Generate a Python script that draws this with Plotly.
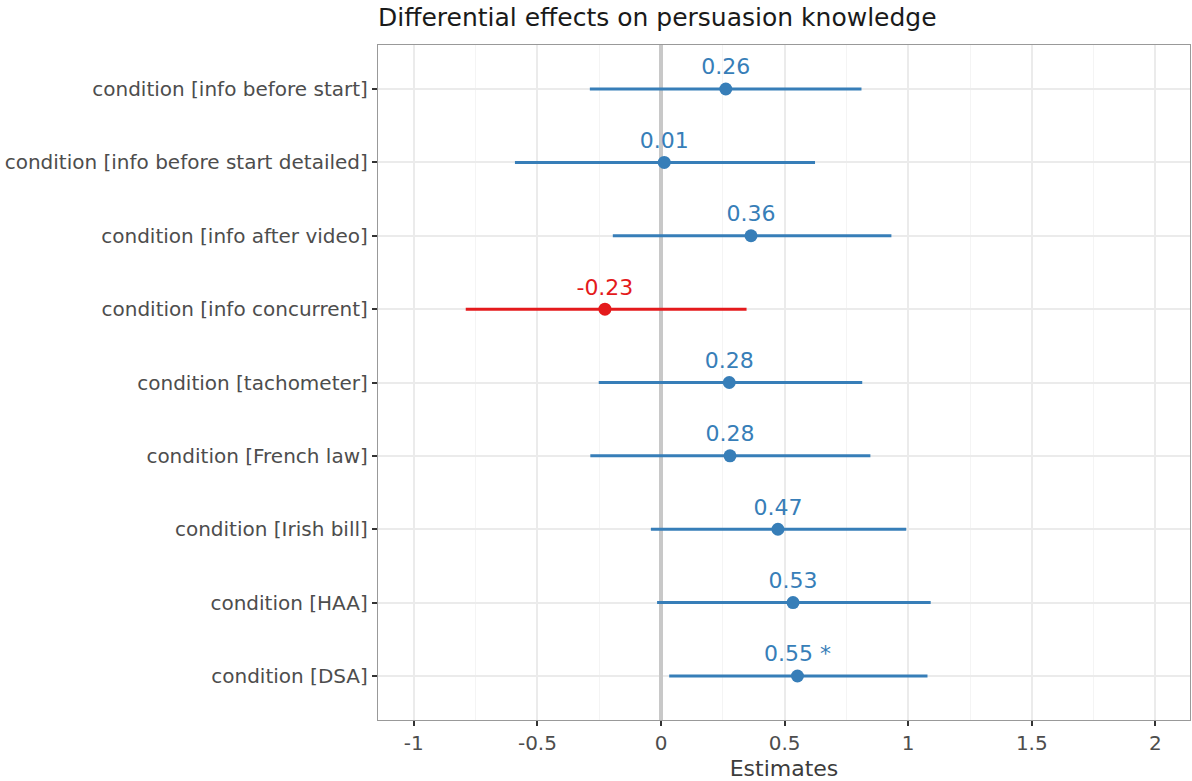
import plotly.graph_objects as go

terms = [
    "condition [info before start]",
    "condition [info before start detailed]",
    "condition [info after video]",
    "condition [info concurrent]",
    "condition [tachometer]",
    "condition [French law]",
    "condition [Irish bill]",
    "condition [HAA]",
    "condition [DSA]",
]
estimates = [0.262, 0.013, 0.364, -0.227, 0.276, 0.279, 0.473, 0.534, 0.552]
ci_low = [-0.288, -0.591, -0.195, -0.790, -0.252, -0.286, -0.041, -0.016, 0.033]
ci_high = [0.811, 0.623, 0.932, 0.346, 0.814, 0.847, 0.992, 1.091, 1.078]
stars = ["", "", "", "", "", "", "", "", " *"]

x_ticks = [-1, -0.5, 0, 0.5, 1, 1.5, 2]
x_tick_text = ["-1", "-0.5", "0", "0.5", "1", "1.5", "2"]

BLUE = "#377EB8"
RED = "#E41A1C"
FONT = "DejaVu Sans"

fig = go.Figure()

for positive, color in [(True, BLUE), (False, RED)]:
    idx = [i for i, e in enumerate(estimates) if (e >= 0) == positive]
    xs = [estimates[i] for i in idx]
    ys = [terms[i] for i in idx]
    fig.add_trace(go.Scatter(
        x=xs, y=ys,
        mode="markers+text",
        marker=dict(color=color, size=13),
        text=[f"{estimates[i]:.2f}{stars[i]}" for i in idx],
        textposition="top center",
        textfont=dict(family=FONT, size=22, color=color),
        error_x=dict(
            type="data", symmetric=False,
            array=[ci_high[i] - estimates[i] for i in idx],
            arrayminus=[estimates[i] - ci_low[i] for i in idx],
            color=color, thickness=3, width=0,
        ),
        showlegend=False,
        hoverinfo="skip",
    ))

fig.update_layout(
    width=1192, height=781,
    margin=dict(l=378, r=2, t=45, b=61),
    paper_bgcolor="white",
    plot_bgcolor="white",
    font=dict(family=FONT, color="#4d4d4d"),
    title=dict(
        text="Differential effects on persuasion knowledge",
        font=dict(family=FONT, size=25, color="#1a1a1a"),
        xref="paper", x=0, xanchor="left",
        yref="container", y=1 - 17 / 781, yanchor="middle",
    ),
    xaxis=dict(
        range=[-1.145, 2.14],
        tickvals=x_ticks, ticktext=x_tick_text,
        tickfont=dict(family=FONT, size=20, color="#4d4d4d"),
        ticks="outside", ticklen=5, tickcolor="#333333", tickwidth=1.5,
        showgrid=True, gridcolor="#ebebeb", gridwidth=1.5,
        minor=dict(dtick=0.25, tick0=0, showgrid=True, gridcolor="#f4f4f4", gridwidth=1, ticks=""),
        zeroline=True, zerolinecolor="#c8c8c8", zerolinewidth=4,
        showline=True, mirror=True, linecolor="#999999", linewidth=1.3,
        title=dict(text="Estimates", font=dict(family=FONT, size=22, color="#3c3c3c"), standoff=6),
    ),
    yaxis=dict(
        type="category",
        categoryorder="array", categoryarray=terms,
        range=[len(terms) - 0.4, -0.6],
        tickfont=dict(family=FONT, size=20, color="#4d4d4d"),
        ticks="outside", ticklen=5, tickcolor="#333333", tickwidth=1.5,
        showgrid=True, gridcolor="#ebebeb", gridwidth=1.5,
        zeroline=False,
        showline=True, mirror=True, linecolor="#999999", linewidth=1.3,
    ),
)

fig.write_html("out.html")
